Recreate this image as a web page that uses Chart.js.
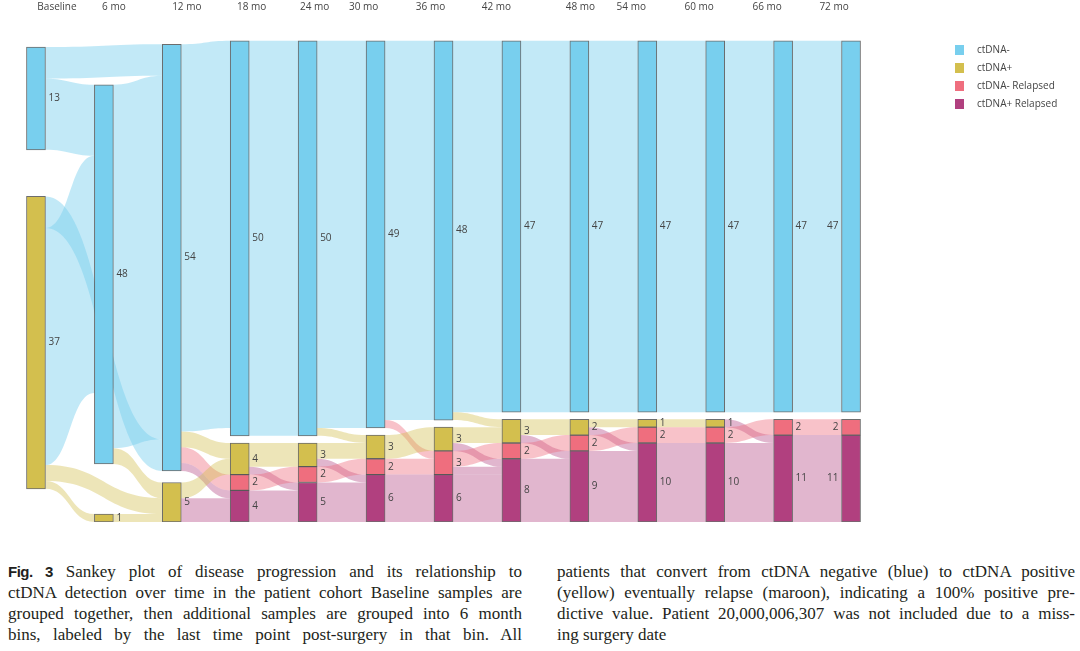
<!DOCTYPE html>
<html>
<head>
<meta charset="utf-8">
<script src="https://cdn.jsdelivr.net/npm/chart.js@4.4.0/dist/chart.umd.min.js"></script>
<style>
html,body{margin:0;padding:0;background:#fff;width:1080px;height:651px;overflow:hidden}
#wrap{position:absolute;left:0;top:0;width:1080px;height:545px}
#cap{position:absolute;top:561px;left:0;width:1080px;font-family:"Liberation Serif","Times New Roman",Times,"DejaVu Serif",serif;font-size:17px;line-height:21px;color:#231f20}
.col{position:absolute;top:0}
.j{text-align:justify;text-align-last:justify;white-space:nowrap}
.last{text-align:left;text-align-last:left}
.fig{font-family:"Liberation Sans",Arial,sans-serif;font-weight:bold;font-size:15px;letter-spacing:-0.5px}
</style>
</head>
<body>
<div id="wrap"><canvas id="c" width="1080" height="545"></canvas></div>
<div id="cap">
  <div class="col" style="left:8px;width:514px">
    <div class="j"><span class="fig">Fig. 3</span> Sankey plot of disease progression and its relationship to</div>
    <div class="j">ctDNA detection over time in the patient cohort Baseline samples are</div>
    <div class="j">grouped together, then additional samples are grouped into 6 month</div>
    <div class="j">bins, labeled by the last time point post-surgery in that bin. All</div>
  </div>
  <div class="col" style="left:557px;width:518px">
    <div class="j">patients that convert from ctDNA negative (blue) to ctDNA positive</div>
    <div class="j">(yellow) eventually relapse (maroon), indicating a 100% positive pre-</div>
    <div class="j">dictive value. Patient 20,000,006,307 was not included due to a miss-</div>
    <div class="j last">ing surgery date</div>
  </div>
</div>
<script>
// ---------------- data ----------------
const timepoints = ['Baseline','6 mo','12 mo','18 mo','24 mo','30 mo','36 mo','42 mo','48 mo','54 mo','60 mo','66 mo','72 mo'];
const statuses = ['ctDNA-','ctDNA+','ctDNA- Relapsed','ctDNA+ Relapsed'];
const negCounts         = [13,48,54,50,50,49,48,47,47,47,47,47,47];
const posCounts         = [37, 1, 5, 4, 3, 3, 3, 3, 2, 1, 1, 0, 0];
const negRelapsedCounts = [ 0, 0, 0, 2, 2, 2, 3, 2, 2, 2, 2, 2, 2];
const posRelapsedCounts = [ 0, 0, 0, 4, 5, 6, 6, 8, 9,10,10,11,11];
// flows: [fromColumn, fromStatus, toColumn, toStatus, patients]
// status index: 0 = ctDNA-, 1 = ctDNA+, 2 = ctDNA- Relapsed, 3 = ctDNA+ Relapsed
const flows = [
  [0,0,2,0,4],[0,0,1,0,9],[0,1,2,0,4],[0,1,1,0,30],[0,1,2,1,2],[0,1,1,1,1],
  [1,0,2,0,46],[1,0,2,1,2],[1,1,2,1,1],
  [2,0,3,0,49],[2,0,3,1,2],[2,0,3,2,2],[2,0,3,3,1],[2,1,3,1,2],[2,1,3,3,3],
  [3,0,4,0,50],[3,1,4,1,3],[3,1,4,3,1],[3,2,4,2,2],[3,3,4,3,4],
  [4,0,5,0,49],[4,0,5,1,1],[4,1,5,1,2],[4,1,5,3,1],[4,2,5,2,2],[4,3,5,3,5],
  [5,0,6,0,48],[5,0,6,2,1],[5,1,6,1,3],[5,2,6,2,2],[5,3,6,3,6],
  [6,0,7,0,47],[6,0,7,1,1],[6,1,7,1,2],[6,1,7,3,1],[6,2,7,2,2],[6,2,7,3,1],[6,3,7,3,6],
  [7,0,8,0,47],[7,1,8,1,2],[7,1,8,3,1],[7,2,8,2,2],[7,3,8,3,8],
  [8,0,9,0,47],[8,1,9,1,1],[8,1,9,3,1],[8,2,9,2,2],[8,3,9,3,9],
  [9,0,10,0,47],[9,1,10,1,1],[9,2,10,2,2],[9,3,10,3,10],
  [10,0,11,0,47],[10,1,11,3,1],[10,2,11,2,2],[10,3,11,3,10],
  [11,0,12,0,47],[11,2,12,2,2],[11,3,12,3,11]
];

// ---------------- layout / style ----------------
const nodeColors = ['#78cfee','#d3bf4e','#ef6e7e','#b1407f'];
const linkColors = ['rgba(120,207,238,0.45)','rgba(211,191,78,0.40)','rgba(239,110,126,0.42)','rgba(177,64,127,0.38)'];
// gap (in patient units) left below each node when stacking a column bottom-up
// stacking order bottom-up: ctDNA+ Relapsed, ctDNA- Relapsed, ctDNA+, ctDNA-
const gapBelowNeg = [5.9,6.34,1.46,0.9,0.9,0.9,0.9,0.9,0.9,0.9,0.9,0.9,0.9];
const gapBelowPos = [4.2,0,0,0,0,0,0,0,0,0,0,0,0];
const columnLabelShift = [21,10,15,12,7,-12,-13,-15,1,-16,-16,-16,-17];
const BAR = 19;
const FONT = '10px "Open Sans", "DejaVu Sans", sans-serif';
const TEXT = '#444';

const countsByStatus = [negCounts, posCounts, negRelapsedCounts, posRelapsedCounts];
const stackOrder = [3,2,1,0];
const ranges = [[],[],[],[]];
timepoints.forEach((t, c) => {
  let base = 0;
  stackOrder.forEach(s => {
    const v = countsByStatus[s][c];
    if (s === 0) base += gapBelowNeg[c];
    if (s === 1) base += gapBelowPos[c];
    ranges[s][c] = v > 0 ? [base, base + v] : null;
    base += v;
  });
});

const sankeyPlugin = {
  id: 'sankey',
  beforeDatasetsDraw(chart) {
    const ctx = chart.ctx, xs = chart.scales.x, ys = chart.scales.y;
    const outPos = ranges.map(r => r.map(n => n ? n[1] : 0));
    const inPos = ranges.map(r => r.map(n => n ? n[1] : 0));
    const bySource = flows.map((f, i) => i).sort((a, b) => {
      const fa = flows[a], fb = flows[b];
      if (fa[0] !== fb[0]) return fa[0] - fb[0];
      if (fa[1] !== fb[1]) return fa[1] - fb[1];
      return ranges[fb[3]][fb[2]][1] - ranges[fa[3]][fa[2]][1];
    });
    const seg = {};
    bySource.forEach(i => {
      const f = flows[i];
      const top = outPos[f[1]][f[0]];
      seg[i] = {sTop: top, sBot: top - f[4]};
      outPos[f[1]][f[0]] = top - f[4];
    });
    const byTarget = flows.map((f, i) => i).sort((a, b) => {
      const fa = flows[a], fb = flows[b];
      if (fa[2] !== fb[2]) return fa[2] - fb[2];
      if (fa[3] !== fb[3]) return fa[3] - fb[3];
      return ranges[fb[1]][fb[0]][1] - ranges[fa[1]][fa[0]][1];
    });
    byTarget.forEach(i => {
      const f = flows[i];
      const top = inPos[f[3]][f[2]];
      seg[i].tTop = top; seg[i].tBot = top - f[4];
      inPos[f[3]][f[2]] = top - f[4];
    });
    ctx.save();
    flows.forEach((f, i) => {
      const s = seg[i];
      const x0 = xs.getPixelForValue(f[0]) + BAR / 2;
      const x1 = xs.getPixelForValue(f[2]) - BAR / 2;
      const xm = (x0 + x1) / 2;
      const a = ys.getPixelForValue(s.sTop), b = ys.getPixelForValue(s.sBot);
      const c = ys.getPixelForValue(s.tTop), d = ys.getPixelForValue(s.tBot);
      ctx.beginPath();
      ctx.moveTo(x0, a);
      ctx.bezierCurveTo(xm, a, xm, c, x1, c);
      ctx.lineTo(x1, d);
      ctx.bezierCurveTo(xm, d, xm, b, x0, b);
      ctx.closePath();
      ctx.fillStyle = linkColors[f[3]];
      ctx.fill();
    });
    ctx.restore();
  },
  afterDatasetsDraw(chart) {
    const ctx = chart.ctx, xs = chart.scales.x, ys = chart.scales.y;
    const lastCol = timepoints.length - 1;
    ctx.save();
    ctx.font = FONT;
    ctx.fillStyle = TEXT;
    ctx.textBaseline = 'middle';
    ranges.forEach((r, s) => r.forEach((n, c) => {
      if (!n) return;
      const y = ys.getPixelForValue((n[0] + n[1]) / 2);
      if (c === lastCol) {
        ctx.textAlign = 'right';
        ctx.fillText(String(countsByStatus[s][c]), xs.getPixelForValue(c) - BAR / 2 - 3, y);
      } else {
        ctx.textAlign = 'left';
        ctx.fillText(String(countsByStatus[s][c]), xs.getPixelForValue(c) + BAR / 2 + 3, y);
      }
    }));
    // column labels
    ctx.textAlign = 'center';
    timepoints.forEach((t, c) => {
      ctx.fillText(t, xs.getPixelForValue(c) + columnLabelShift[c], 7);
    });
    // legend
    ctx.textAlign = 'left';
    statuses.forEach((name, i) => {
      const y = 50 + i * 18;
      ctx.fillStyle = nodeColors[i];
      ctx.fillRect(955, y - 5, 9, 10);
      ctx.fillStyle = TEXT;
      ctx.fillText(name, 977, y);
    });
    ctx.restore();
  }
};

new Chart(document.getElementById('c'), {
  type: 'bar',
  data: {
    labels: timepoints,
    datasets: statuses.map((name, s) => ({
      label: name,
      data: ranges[s],
      backgroundColor: nodeColors[s],
      borderColor: 'rgba(60,60,60,0.75)',
      borderWidth: 1,
      borderSkipped: false,
      barThickness: BAR,
      grouped: false
    }))
  },
  options: {
    responsive: false,
    animation: false,
    layout: {padding: {left: 2, right: 195, top: 40, bottom: 23}},
    plugins: {legend: {display: false}, tooltip: {enabled: false}},
    scales: {
      x: {display: false, offset: true},
      y: {display: false, min: 0, max: 61}
    }
  },
  plugins: [sankeyPlugin]
});
</script>
</body>
</html>
